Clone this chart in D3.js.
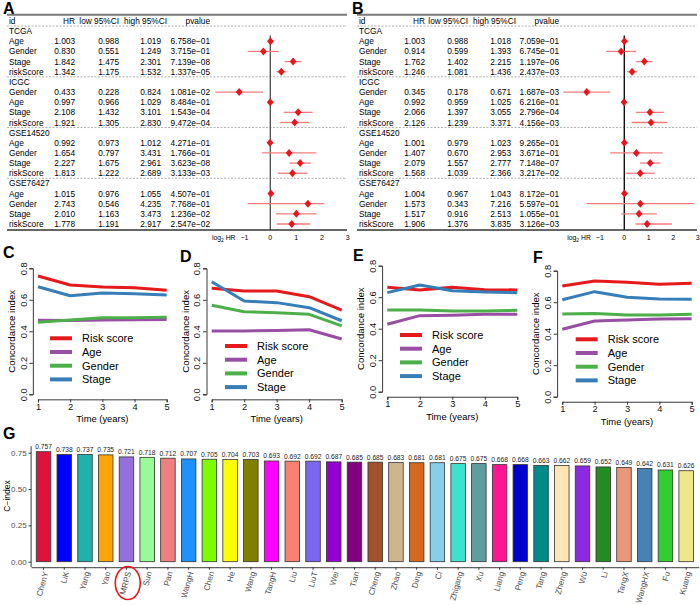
<!DOCTYPE html>
<html><head><meta charset="utf-8">
<script src="https://cdn.jsdelivr.net/npm/d3@7"></script>
<style>
body{margin:0;background:#fff;}
svg{display:block;font-family:"Liberation Sans",Arial,Helvetica,sans-serif;}
</style></head><body>
<svg id="chart" width="700" height="605"></svg>
<script>
// ---------- DATA ----------
const forestGroups = ["TCGA","ICGC","GSE14520","GSE76427"];
const forestIds = ["Age","Gender","Stage","riskScore","Gender","Age","Stage","riskScore","Age","Gender","Stage","riskScore","Age","Gender","Stage","riskScore"];
const uniHR   = [1.003,0.830,1.842,1.342, 0.433,0.997,2.108,1.921, 0.992,1.654,2.227,1.813, 1.015,2.743,2.010,1.778];
const uniLow  = [0.988,0.551,1.475,1.175, 0.228,0.966,1.432,1.305, 0.973,0.797,1.675,1.222, 0.976,0.546,1.163,1.191];
const uniHigh = [1.019,1.249,2.301,1.532, 0.824,1.029,3.101,2.830, 1.012,3.431,2.961,2.689, 1.055,4.235,3.473,2.917];
const uniP    = ["6.758e-01","3.715e-01","7.139e-08","1.337e-05","1.081e-02","8.484e-01","1.543e-04","9.472e-04","4.271e-01","1.766e-01","3.623e-08","3.133e-03","4.507e-01","7.768e-01","1.236e-02","2.547e-02"];
const multiHR   = [1.003,0.914,1.762,1.246, 0.345,0.992,2.066,2.126, 1.001,1.407,2.079,1.568, 1.004,1.573,1.517,1.906];
const multiLow  = [0.988,0.599,1.402,1.081, 0.178,0.959,1.397,1.239, 0.979,0.670,1.557,1.039, 0.967,0.343,0.916,1.376];
const multiHigh = [1.018,1.393,2.215,1.436, 0.671,1.025,3.055,3.371, 1.023,2.953,2.777,2.366, 1.043,7.216,2.513,3.835];
const multiP    = ["7.059e-01","6.745e-01","1.197e-06","2.437e-03","1.687e-03","6.216e-01","2.796e-04","4.156e-03","9.265e-01","3.671e-01","7.148e-07","3.217e-02","8.172e-01","5.597e-01","1.055e-01","3.126e-03"];
const forestTicks = [-1,0,1,2,3];

const years = [1,2,3,4,5];
const cIndexTicks = [0,0.2,0.4,0.6,0.8];
const seriesNames = ["Risk score","Age","Gender","Stage"];
const cRisk   = [0.751,0.694,0.681,0.677,0.660];
const cAge    = [0.470,0.468,0.472,0.473,0.475];
const cGender = [0.457,0.472,0.486,0.486,0.490];
const cStage  = [0.683,0.626,0.643,0.639,0.630];
const dRisk   = [0.673,0.656,0.656,0.620,0.535];
const dAge    = [0.402,0.402,0.405,0.410,0.351];
const dGender = [0.565,0.524,0.518,0.508,0.434];
const dStage  = [0.715,0.592,0.582,0.550,0.467];
const eRisk   = [0.663,0.646,0.663,0.648,0.646];
const eAge    = [0.428,0.483,0.485,0.491,0.491];
const eGender = [0.519,0.519,0.512,0.512,0.517];
const eStage  = [0.629,0.677,0.641,0.633,0.629];
const fRisk   = [0.703,0.735,0.726,0.714,0.720];
const fAge    = [0.428,0.481,0.487,0.493,0.495];
const fGender = [0.525,0.529,0.519,0.519,0.523];
const fStage  = [0.616,0.667,0.631,0.620,0.618];

const gNames  = ["ChenY","LiK","Yang","Yao","MRPS","Sun","Pan","WangH","Chen","He","Wang","TangH","Liu","LiuT","Wei","Tian","Cheng","Zhao","Ding","Ci","Zhigang","Xu","Liang","Peng","Tang","Zheng","Wu","Li","TangX","WangHX","Fu","Kuang"];
const gValues = [0.757,0.738,0.737,0.735,0.721,0.718,0.712,0.707,0.705,0.704,0.703,0.693,0.692,0.692,0.687,0.685,0.685,0.683,0.681,0.681,0.675,0.675,0.668,0.668,0.663,0.662,0.659,0.652,0.649,0.642,0.631,0.626];
const gTicks  = [0,0.25,0.5,0.75];
const gColors = ["#DC143C","#0000FF","#20B2AA","#FFA500","#9370DB","#98FB98","#F08080","#1E90FF","#7CFC00","#FFFF00","#808000","#FF00FF","#FA8072","#7B68EE","#9400D3","#800080","#A0522D","#D2B48C","#D2691E","#87CEEB","#40E0D0","#5F9EA0","#FF1493","#0000CD","#008B8B","#FFE4B5","#8A2BE2","#228B22","#E9967A","#4682B4","#32CD32","#F0E68C"];
const lineColors = ["#E41A1C","#984EA3","#4DAF4A","#377EB8"];

// ---------- DRAW ----------
const svg = d3.select("#chart");
const minus = s => String(s).replace(/-/g, "\u2212");

function panelLabel(t, x, y) {
  svg.append("text").attr("x", x).attr("y", y).attr("font-size", 16).attr("font-weight", "bold").text(t);
}

function drawForest(cfg, hr, low, high, p) {
  const g = svg.append("g");
  const x = d3.scaleLinear().domain([-1, 3]).range(cfg.xr);
  const rowY = i => 21 + i * 10.15;
  const fs = 8.3;
  g.append("line").attr("x1", cfg.l0).attr("x2", cfg.l1).attr("y1", 14.7).attr("y2", 14.7)
    .attr("stroke", "#7a7a7a").attr("stroke-width", 2);
  const header = [
    {t: "id", x: cfg.idX, a: "start"}, {t: "HR", x: cfg.hrR, a: "end"},
    {t: "low 95%CI", x: cfg.lowR, a: "end"}, {t: "high 95%CI", x: cfg.highHeadR, a: "end"},
    {t: "pvalue", x: cfg.pR, a: "end"}];
  header.forEach(h => g.append("text").attr("x", h.x).attr("y", rowY(0) + 3)
    .attr("font-size", fs).attr("text-anchor", h.a).text(h.t));
  [0.5, 5.5, 10.5, 15.5].forEach(k => g.append("line")
    .attr("x1", cfg.l0).attr("x2", cfg.l1).attr("y1", rowY(k)).attr("y2", rowY(k))
    .attr("stroke", "#9a9a9a").attr("stroke-width", 0.8).attr("stroke-dasharray", "2,1.5"));
  g.append("line").attr("x1", x(0)).attr("x2", x(0)).attr("y1", 35.5).attr("y2", 230)
    .attr("stroke", cfg.zeroCol).attr("stroke-width", 1.4);
  forestGroups.forEach((grp, gi) => {
    const base = 1 + gi * 5;
    g.append("text").attr("x", cfg.idX).attr("y", rowY(base) + 3).attr("font-size", fs).text(grp);
    for (let j = 0; j < 4; j++) {
      const idx = gi * 4 + j, yy = rowY(base + 1 + j);
      g.append("text").attr("x", cfg.idX).attr("y", yy + 3).attr("font-size", fs).text(forestIds[idx]);
      g.append("text").attr("x", cfg.hrR).attr("y", yy + 3).attr("font-size", fs).attr("text-anchor", "end").text(hr[idx].toFixed(3));
      g.append("text").attr("x", cfg.lowR).attr("y", yy + 3).attr("font-size", fs).attr("text-anchor", "end").text(low[idx].toFixed(3));
      g.append("text").attr("x", cfg.highR).attr("y", yy + 3).attr("font-size", fs).attr("text-anchor", "end").text(high[idx].toFixed(3));
      g.append("text").attr("x", cfg.pR).attr("y", yy + 3).attr("font-size", fs).attr("text-anchor", "end").text(minus(p[idx]));
      g.append("line").attr("x1", x(Math.log2(low[idx]))).attr("x2", x(Math.log2(high[idx])))
        .attr("y1", yy).attr("y2", yy).attr("stroke", "#f47c7c").attr("stroke-width", 1.3);
      const cx = x(Math.log2(hr[idx]));
      g.append("path").attr("d", `M${cx},${yy - 4}L${cx + 3.4},${yy}L${cx},${yy + 4}L${cx - 3.4},${yy}Z`)
        .attr("fill", "#e8161c");
    }
  });
  g.append("line").attr("x1", cfg.l0).attr("x2", cfg.l1).attr("y1", 230).attr("y2", 230)
    .attr("stroke", "#333").attr("stroke-width", 1.3);
  forestTicks.forEach(t => g.append("text").attr("x", x(t)).attr("y", 240).attr("font-size", 7)
    .attr("text-anchor", "middle").text(minus(t)));
  const lt = g.append("text").attr("x", cfg.xr[0] - 9).attr("y", 240).attr("font-size", 6.8).attr("text-anchor", "end");
  lt.append("tspan").text("log");
  lt.append("tspan").attr("font-size", 5).attr("dy", 1.5).text("2");
  lt.append("tspan").attr("dy", -1.5).text(" HR");
}

panelLabel("A", 3, 14);
panelLabel("B", 352, 14);
drawForest({idX: 9, hrR: 75, lowR: 119, highHeadR: 167, highR: 161, pR: 210, l0: 7, l1: 347, xr: [244.5, 347.8], zeroCol: "#555"},
  uniHR, uniLow, uniHigh, uniP);
drawForest({idX: 359, hrR: 425, lowR: 468, highHeadR: 516, highR: 511, pR: 559, l0: 357, l1: 697, xr: [599.8, 697.8], zeroCol: "#111"},
  multiHR, multiLow, multiHigh, multiP);

// ---------- C-F ----------
function drawCIndex(cfg, series) {
  const g = svg.append("g");
  const x = d3.scaleLinear().domain([1, 5]).range([cfg.x1, cfg.x5]);
  const y = d3.scaleLinear().domain([0, 0.8]).range([cfg.y0, cfg.y08]);
  const axX = cfg.x1 - 0.16 * (cfg.x5 - cfg.x1) / 4;
  const axY = cfg.y0 + 0.032 * (cfg.y0 - cfg.y08) / 0.8;
  const xa = g.append("g").attr("transform", `translate(0,${axY})`)
    .call(d3.axisBottom(x).tickValues(years).tickFormat(d3.format("d")).tickSizeOuter(0).tickSize(3).tickPadding(1));
  const ya = g.append("g").attr("transform", `translate(${axX},0)`)
    .call(d3.axisLeft(y).tickValues(cIndexTicks).tickFormat(d3.format(".1f")).tickSizeOuter(0).tickSize(3.5));
  [xa, ya].forEach(a => {
    a.selectAll("path,line").attr("stroke", "#222").attr("stroke-width", 0.9);
    a.selectAll("text").attr("font-size", 9.3).attr("fill", "#111").attr("font-family", null);
  });
  ya.selectAll("text").attr("x", null).attr("dy", null).attr("text-anchor", "middle")
    .attr("transform", "translate(-9.5,0) rotate(-90)").attr("y", 3.3);
  g.append("text").attr("x", x(3)).attr("y", axY + 23).attr("text-anchor", "middle").attr("font-size", 9.4).text("Time (years)");
  g.append("text").attr("transform", `translate(${axX - 18},${y(0.4)}) rotate(-90)`)
    .attr("text-anchor", "middle").attr("font-size", 9.6).text("Concordance index");
  const line = d3.line().x((d, i) => x(years[i])).y(d => y(d));
  series.forEach((s, k) => g.append("path").attr("d", line(s)).attr("fill", "none")
    .attr("stroke", lineColors[k]).attr("stroke-width", 3).attr("stroke-linejoin", "round"));
  seriesNames.forEach((n, k) => {
    const yy = cfg.legY + k * 13.7;
    g.append("line").attr("x1", cfg.legX).attr("x2", cfg.legX + 22).attr("y1", yy).attr("y2", yy)
      .attr("stroke", lineColors[k]).attr("stroke-width", 4);
    g.append("text").attr("x", cfg.legX + 32).attr("y", yy + 4).attr("font-size", 11).text(n);
  });
  panelLabel(cfg.label, cfg.lx, cfg.ly);
}

drawCIndex({label: "C", lx: 3, ly: 258, x1: 38, x5: 166.7, y0: 394.3, y08: 268.3, legX: 50, legY: 338.3},
  [cRisk, cAge, cGender, cStage]);
drawCIndex({label: "D", lx: 180, ly: 262, x1: 211.7, x5: 341.7, y0: 394.3, y08: 268.3, legX: 225, legY: 346},
  [dRisk, dAge, dGender, dStage]);
drawCIndex({label: "E", lx: 353, ly: 261, x1: 387.3, x5: 517.3, y0: 391.7, y08: 265.7, legX: 400, legY: 335},
  [eRisk, eAge, eGender, eStage]);
drawCIndex({label: "F", lx: 533, ly: 263, x1: 562.3, x5: 691.7, y0: 396.7, y08: 270.7, legX: 575.7, legY: 339.3},
  [fRisk, fAge, fGender, fStage]);

// ---------- G ----------
(function () {
  const g = svg.append("g");
  const x = d3.scaleBand().domain(gNames).range([31.1, 698.6]).paddingInner(0.3).paddingOuter(0.25);
  const y = d3.scaleLinear().domain([0, 0.75]).range([561.7, 452.7]);
  const top = y(0.795), bottom = y(-0.0379);
  g.selectAll("rect.bar").data(gValues).join("rect").attr("class", "bar")
    .attr("x", (d, i) => x(gNames[i])).attr("y", d => y(d))
    .attr("width", x.bandwidth()).attr("height", d => y(0) - y(d))
    .attr("fill", (d, i) => gColors[i]).attr("stroke", "#333").attr("stroke-width", 0.8);
  g.selectAll("text.val").data(gValues).join("text").attr("class", "val")
    .attr("x", (d, i) => x(gNames[i]) + x.bandwidth() / 2).attr("y", d => y(d) - 2.5)
    .attr("text-anchor", "middle").attr("font-size", 6.7).attr("fill", "#222").text(d3.format(".3f"));
  const ya = g.append("g").attr("transform", "translate(31.1,0)")
    .call(d3.axisLeft(y).tickValues(gTicks).tickFormat(d3.format(".2f")).tickSize(2.5).tickPadding(2));
  ya.select(".domain").remove();
  ya.selectAll("line").attr("stroke", "#333");
  ya.selectAll("text").attr("font-size", 8).attr("fill", "#4d4d4d").attr("font-family", null);
  g.append("line").attr("x1", 31.1).attr("x2", 31.1).attr("y1", top).attr("y2", bottom).attr("stroke", "#222").attr("stroke-width", 0.9);
  const xa = g.append("g").attr("transform", `translate(0,${bottom})`)
    .call(d3.axisBottom(x).tickSize(2.5).tickSizeOuter(0));
  xa.select(".domain").attr("stroke", "#222").attr("stroke-width", 0.9);
  xa.selectAll("line").attr("stroke", "#333");
  xa.selectAll("text").attr("font-size", 8.2).attr("fill", "#4d4d4d").attr("font-family", null)
    .attr("text-anchor", "end").attr("dy", "0.35em").attr("y", 0)
    .attr("transform", "translate(2,4.5) rotate(-75)");
  g.append("text").attr("transform", "translate(10,496) rotate(-90)").attr("text-anchor", "middle")
    .attr("font-size", 8.5).text("C\u2212index");
  const mx = x("MRPS") + x.bandwidth() / 2 + 1.3;
  g.append("ellipse").attr("cx", mx).attr("cy", 583).attr("rx", 12.5).attr("ry", 16.5)
    .attr("fill", "none").attr("stroke", "#e8161c").attr("stroke-width", 1.6);
  panelLabel("G", 3, 439);
})();
</script></body></html>
